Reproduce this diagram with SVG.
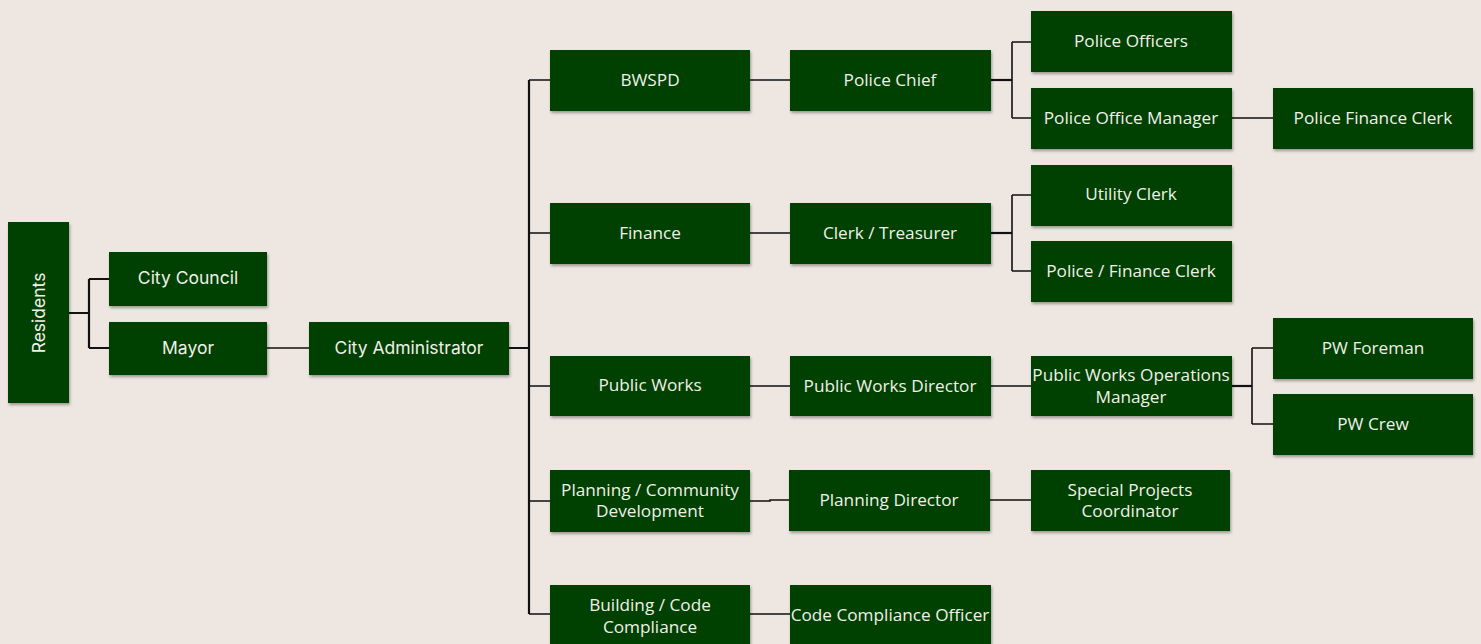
<svg xmlns="http://www.w3.org/2000/svg" width="1481" height="644" viewBox="0 0 1481 644">
<defs>
<filter id="sh" x="-10%" y="-10%" width="120%" height="130%">
<feDropShadow dx="1" dy="2" stdDeviation="1.5" flood-color="#000" flood-opacity="0.35"/>
</filter>
<style>
.b{fill:#004000;filter:url(#sh)}
.t{fill:#F0F0EA;font-family:"Open Sans","Noto Sans",sans-serif;font-size:17.2px;text-anchor:middle;dominant-baseline:central}
.a{fill:#F0F0EA;font-family:Inter,"Noto Sans",sans-serif;font-size:17.5px;text-anchor:middle;dominant-baseline:central}
.c{fill:none;stroke:#111;stroke-width:1.6}
.k{fill:none;stroke:#111;stroke-width:2.2}
</style>
</defs>
<rect width="1481" height="644" fill="#EEE7E1"/>
<g id="connectors">
<path class="k" d="M69 313H89M89 279V348M89 279H109M89 348H109"/>
<path class="c" d="M267 348H309"/>
<path class="k" d="M509 348H529M529 80V614"/>
<path class="c" d="M529 80H550M529 233H550M529 386H550M529 501H550M529 614H550"/>
<path class="c" d="M750 80H790M750 233H790M750 386H790M750 501H770V500H789M750 614H790"/>
<path class="k" d="M991 80H1012"/>
<path class="c" d="M1012 42V118M1012 42H1031M1012 118H1031"/>
<path class="k" d="M991 233H1012"/>
<path class="c" d="M1012 195V271M1012 195H1031M1012 271H1031"/>
<path class="c" d="M991 386H1031M990 500H1031M1232 118H1273"/>
<path class="k" d="M1232 386H1252"/>
<path class="c" d="M1252 348V424M1252 348H1273M1252 424H1273"/>
</g>
<g id="residents"><rect class="b" x="8" y="222" width="61" height="181"/><text class="a" transform="translate(38 313) rotate(-90)" x="0" y="0">Residents</text></g>
<g id="city-council"><rect class="b" x="109" y="252" width="158" height="54"/><text class="a" x="188" y="277">City Council</text></g>
<g id="mayor"><rect class="b" x="109" y="322" width="158" height="53"/><text class="a" x="188" y="347">Mayor</text></g>
<g id="city-administrator"><rect class="b" x="309" y="322" width="200" height="53"/><text class="a" x="409" y="347">City Administrator</text></g>
<g id="bwspd"><rect class="b" x="550" y="50" width="200" height="61"/><text class="t" x="650" y="79">BWSPD</text></g>
<g id="finance"><rect class="b" x="550" y="203" width="200" height="61"/><text class="t" x="650" y="232">Finance</text></g>
<g id="public-works"><rect class="b" x="550" y="356" width="200" height="60"/><text class="t" x="650" y="384">Public Works</text></g>
<g id="planning"><rect class="b" x="550" y="470" width="200" height="62"/><text class="t" x="650" y="489">Planning / Community</text><text class="t" x="650" y="510">Development</text></g>
<g id="building"><rect class="b" x="550" y="585" width="200" height="62"/><text class="t" x="650" y="604">Building / Code</text><text class="t" x="650" y="626">Compliance</text></g>
<g id="police-chief"><rect class="b" x="790" y="50" width="201" height="61"/><text class="t" x="890" y="79">Police Chief</text></g>
<g id="clerk-treasurer"><rect class="b" x="790" y="203" width="201" height="61"/><text class="t" x="890" y="232">Clerk / Treasurer</text></g>
<g id="pw-director"><rect class="b" x="790" y="356" width="201" height="60"/><text class="t" x="890" y="385">Public Works Director</text></g>
<g id="planning-director"><rect class="b" x="789" y="470" width="201" height="61"/><text class="t" x="889" y="499">Planning Director</text></g>
<g id="code-officer"><rect class="b" x="790" y="585" width="201" height="62"/><text class="t" x="890" y="614">Code Compliance Officer</text></g>
<g id="police-officers"><rect class="b" x="1031" y="11" width="201" height="61"/><text class="t" x="1131" y="40">Police Officers</text></g>
<g id="police-office-manager"><rect class="b" x="1031" y="88" width="201" height="61"/><text class="t" x="1131" y="117">Police Office Manager</text></g>
<g id="utility-clerk"><rect class="b" x="1031" y="165" width="201" height="61"/><text class="t" x="1131" y="193">Utility Clerk</text></g>
<g id="police-finance-clerk2"><rect class="b" x="1031" y="241" width="201" height="61"/><text class="t" x="1131" y="270">Police / Finance Clerk</text></g>
<g id="pw-ops-manager"><rect class="b" x="1031" y="356" width="201" height="60"/><text class="t" x="1131" y="374">Public Works Operations</text><text class="t" x="1131" y="396">Manager</text></g>
<g id="special-projects"><rect class="b" x="1031" y="470" width="199" height="61"/><text class="t" x="1130" y="489">Special Projects</text><text class="t" x="1130" y="510">Coordinator</text></g>
<g id="police-finance-clerk"><rect class="b" x="1273" y="88" width="200" height="61"/><text class="t" x="1373" y="117">Police Finance Clerk</text></g>
<g id="pw-foreman"><rect class="b" x="1273" y="318" width="200" height="61"/><text class="t" x="1373" y="347">PW Foreman</text></g>
<g id="pw-crew"><rect class="b" x="1273" y="394" width="200" height="61"/><text class="t" x="1373" y="423">PW Crew</text></g>
</svg>
